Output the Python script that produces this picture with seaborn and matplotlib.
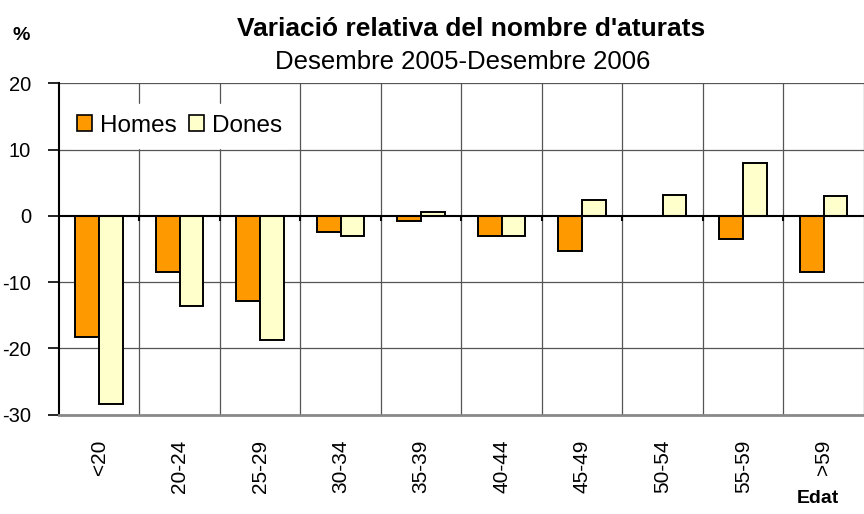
import numpy as np
import pandas as pd
import matplotlib
matplotlib.use("Agg")
import matplotlib.pyplot as plt
import seaborn as sns

# Dades llegides del gràfic
edats = ["<20", "20-24", "25-29", "30-34", "35-39", "40-44", "45-49", "50-54", "55-59", ">59"]
homes = [-18.3, -8.4, -12.9, -2.4, -0.8, -3.0, -5.3, 0.0, -3.5, -8.4]
dones = [-28.3, -13.6, -18.7, -3.0, 0.6, -3.0, 2.4, 3.1, 7.9, 3.0]

df = pd.DataFrame({
    "edat": edats * 2,
    "valor": homes + dones,
    "sexe": ["Homes"] * len(edats) + ["Dones"] * len(edats),
})

sns.set_style("white")
plt.rcParams["font.family"] = ["Liberation Sans", "DejaVu Sans"]
plt.rcParams["axes.unicode_minus"] = False
plt.rcParams["text.color"] = "black"
plt.rcParams["xtick.color"] = "black"
plt.rcParams["ytick.color"] = "black"

fig = plt.figure(figsize=(8.64, 5.14), dpi=100)
ax = fig.add_axes([0.068, 0.193, 0.932, 0.645])

sns.barplot(data=df, x="edat", y="valor", hue="sexe", order=edats,
            palette={"Homes": "#FF9900", "Dones": "#FFFFCC"}, saturation=1,
            width=0.59, edgecolor="black", linewidth=1.4, errorbar=None,
            ax=ax, zorder=3)

ax.set_xlim(-0.5, len(edats) - 0.5)
ax.set_ylim(-30, 20)
ax.set_yticks([-30, -20, -10, 0, 10, 20])
ax.tick_params(axis="y", labelsize=14.5, length=8, width=1.2, direction="out",
               left=True, color="black", pad=12)
ax.tick_params(axis="x", labelsize=15, length=0, pad=18)
plt.setp(ax.get_xticklabels(), rotation=90)

# graella
for y in [-20, -10, 10, 20]:
    ax.axhline(y, color="#555555", lw=0.9, zorder=1)
for b in np.arange(0.5, len(edats), 1.0):
    ax.axvline(b, color="#555555", lw=0.9, zorder=1)
ax.axhline(0, color="black", lw=1.5, zorder=4)
ax.vlines(np.arange(0.5, len(edats) - 1, 1.0), -0.8, 0, color="black", lw=1.5, zorder=4)

for s in ["top", "right"]:
    ax.spines[s].set_visible(False)
ax.spines["left"].set_color("black")
ax.spines["left"].set_linewidth(1.5)
ax.spines["bottom"].set_color("#888888")
ax.spines["bottom"].set_linewidth(2)

ax.set_xlabel("")
ax.set_ylabel("")

leg = ax.legend(loc="center left", bbox_to_anchor=(0.0, 0.872), ncol=2,
                fontsize=17.5, frameon=True, framealpha=1, edgecolor="white",
                handlelength=0.6, handleheight=0.6, handletextpad=0.35,
                columnspacing=0.5, borderpad=0.45, borderaxespad=0.3)
leg.set_zorder(2)
for h in leg.legend_handles:
    h.set_edgecolor("black")
    h.set_linewidth(1.2)

fig.text(0.545, 0.944, "Variació relativa del nombre d'aturats", ha="center",
         va="center", fontsize=19, fontweight="bold")
fig.text(0.535, 0.88, "Desembre 2005-Desembre 2006", ha="center",
         va="center", fontsize=18.5)
fig.text(0.024, 0.93, "%", ha="center", va="center", fontsize=14, fontweight="bold")
fig.text(0.947, 0.03, "Edat", ha="center", va="center", fontsize=14,
         fontweight="bold", stretch="condensed")

fig.savefig("out.png", dpi=100)
